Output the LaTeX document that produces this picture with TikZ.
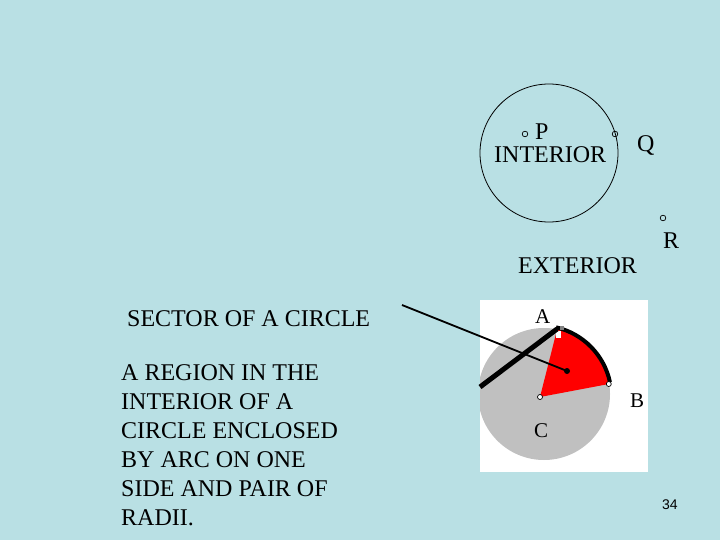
\documentclass[tikz,border=0pt]{standalone}
\usepackage{fontspec}
\setmainfont{Liberation Serif}
\newfontfamily\pagenumfont{Liberation Sans}
\definecolor{slidebg}{RGB}{185,224,228}
\definecolor{discgray}{RGB}{192,192,192}

\begin{document}
\begin{tikzpicture}[x=1pt,y=-1pt,
  lbl/.style={inner sep=0pt,anchor=base west,font=\fontsize{24}{29}\selectfont},
  ptlbl/.style={inner sep=0pt,anchor=base west,font=\fontsize{21}{25}\selectfont},
  pointdot/.style={draw,line width=0.7pt}]
  \fill[slidebg] (0,0) rectangle (720,540);
  \useasboundingbox (0,0) rectangle (720,540);
  % circle with interior / exterior points
  \coordinate (O) at (549,153);
  \draw[line width=0.8pt] (O) circle[radius=69];
  \draw[pointdot] (525,134) circle[radius=2.8];
  \draw[pointdot] (615,134) circle[radius=2.8];
  \draw[pointdot] (663,218) circle[radius=2.8];
  \node[lbl] (p) at (535,140) {P};
  \node[lbl] (interior) at (494,163) {INTERIOR};
  \node[lbl] (q) at (637,152) {Q};
  \node[lbl] (r) at (663,248) {R};
  \node[lbl] (exterior) at (518,273) {EXTERIOR};
  % sector picture
  \fill[white] (480,300) rectangle (648,472);
  \begin{scope}
    \clip (480,300) rectangle (648,472);
    \fill[discgray] (544,394) circle[radius=66];
  \end{scope}
  \coordinate (C) at (540,397);
  \coordinate (A) at ([shift={(-75.8:70)}]C);
  \coordinate (B) at ([shift={(-10.7:70)}]C);
  \fill[red] (C) -- (A) arc[start angle=-75.8,end angle=-10.7,radius=70] -- cycle;
  \draw[line width=4pt] ([shift={(-77:71.5)}]C) arc[start angle=-77,end angle=-12,radius=71.5];
  \fill[white] (556,331) rectangle (561,338);
  \fill[gray] (560,326) rectangle (564,330);
  \draw[pointdot,fill=white] (C) circle[radius=2.5];
  \draw[pointdot,fill=white] (B) circle[radius=2.5];
  \node[ptlbl] (a) at (535,323) {A};
  \node[ptlbl] (b) at (630,407) {B};
  \node[ptlbl] (c) at (534,437) {C};
  % radius stroke and pointer
  \coordinate (radend) at (480,387);
  \coordinate (radtop) at (557,329);
  \draw[line width=5pt] (radend) -- (radtop);
  \coordinate (ptrstart) at (402,305);
  \coordinate (ptrend) at (567,371);
  \draw[line width=1.8pt] (ptrstart) -- (ptrend);
  \fill (ptrend) circle[radius=3];
  % text
  \node[lbl] (sector) at (127,326) {SECTOR OF A CIRCLE};
  \node[lbl,anchor=north west,align=left] (defn) at (121,364)
    {A REGION IN THE\\INTERIOR OF A\\CIRCLE ENCLOSED\\BY ARC ON ONE\\SIDE AND PAIR OF\\RADII.};
  \node[inner sep=0pt,anchor=base west,font=\pagenumfont\fontsize{14}{16}\selectfont] (pagenum) at (662,509) {34};
\end{tikzpicture}
\end{document}
